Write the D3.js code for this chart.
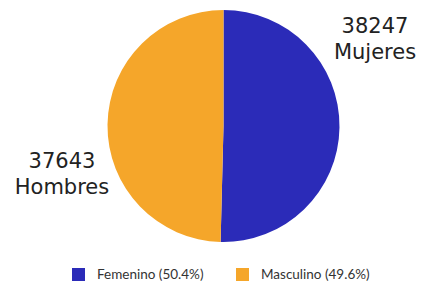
<!DOCTYPE html>
<html>
<head>
<meta charset="utf-8">
<script src="https://cdn.jsdelivr.net/npm/d3@7"></script>
<style>
  body { margin: 0; background: #fff; }
</style>
</head>
<body>
<div id="chart"></div>
<script>
// datos
const categories = ["Femenino", "Masculino"]
const values = [38247, 37643]
const sliceLabels = ["Mujeres", "Hombres"]
const colors = ["#2b2bb8", "#f5a62a"]

const width = 423
const height = 284
const cx = 223.5
const cy = 126
const radius = 116

const svg = d3.select("div#chart").append("svg").attr("width", width).attr("height", height)

const total = d3.sum(values)
const data = categories.map((c, i) => ({ name: c, value: values[i], label: sliceLabels[i], color: colors[i] }))

const pie = d3.pie().value(d => d.value).sort(null)
const arc = d3.arc().innerRadius(0).outerRadius(radius)

const pieGroup = svg.append("g").attr("transform", `translate(${cx},${cy})`)

pieGroup.selectAll(".slice")
    .data(pie(data))
    .enter()
    .append("path")
    .attr("class", "slice")
    .attr("d", arc)
    .style("fill", d => d.data.color)

// etiquetas fuera del pastel
const labelPos = [
    { x: 375, y: 33 },
    { x: 62, y: 168 }
]

data.forEach((d, i) => {
    const t = svg.append("text")
        .attr("x", labelPos[i].x)
        .attr("y", labelPos[i].y)
        .style("text-anchor", "middle")
        .style("font-family", "'DejaVu Sans', sans-serif")
        .style("font-size", "21px")
        .style("fill", "#222")
    t.append("tspan").attr("x", labelPos[i].x).text(d.value)
    t.append("tspan").attr("x", labelPos[i].x).attr("dy", 26).text(d.label)
})

// leyenda
const fmt = d3.format(".1f")
const legendX = [72, 236]
const legend = svg.selectAll(".legend")
    .data(data)
    .enter()
    .append("g")
    .attr("class", "legend")
    .attr("transform", (d, i) => `translate(${legendX[i]},268)`)

legend.append("rect")
    .attr("width", 13)
    .attr("height", 13)
    .style("fill", d => d.color)

legend.append("text")
    .attr("x", 25)
    .attr("y", 11)
    .style("font-family", "Lato, sans-serif")
    .style("font-size", "13.5px")
    .style("fill", "#333")
    .text(d => `${d.name} (${fmt(d.value / total * 100)}%)`)
</script>
</body>
</html>
